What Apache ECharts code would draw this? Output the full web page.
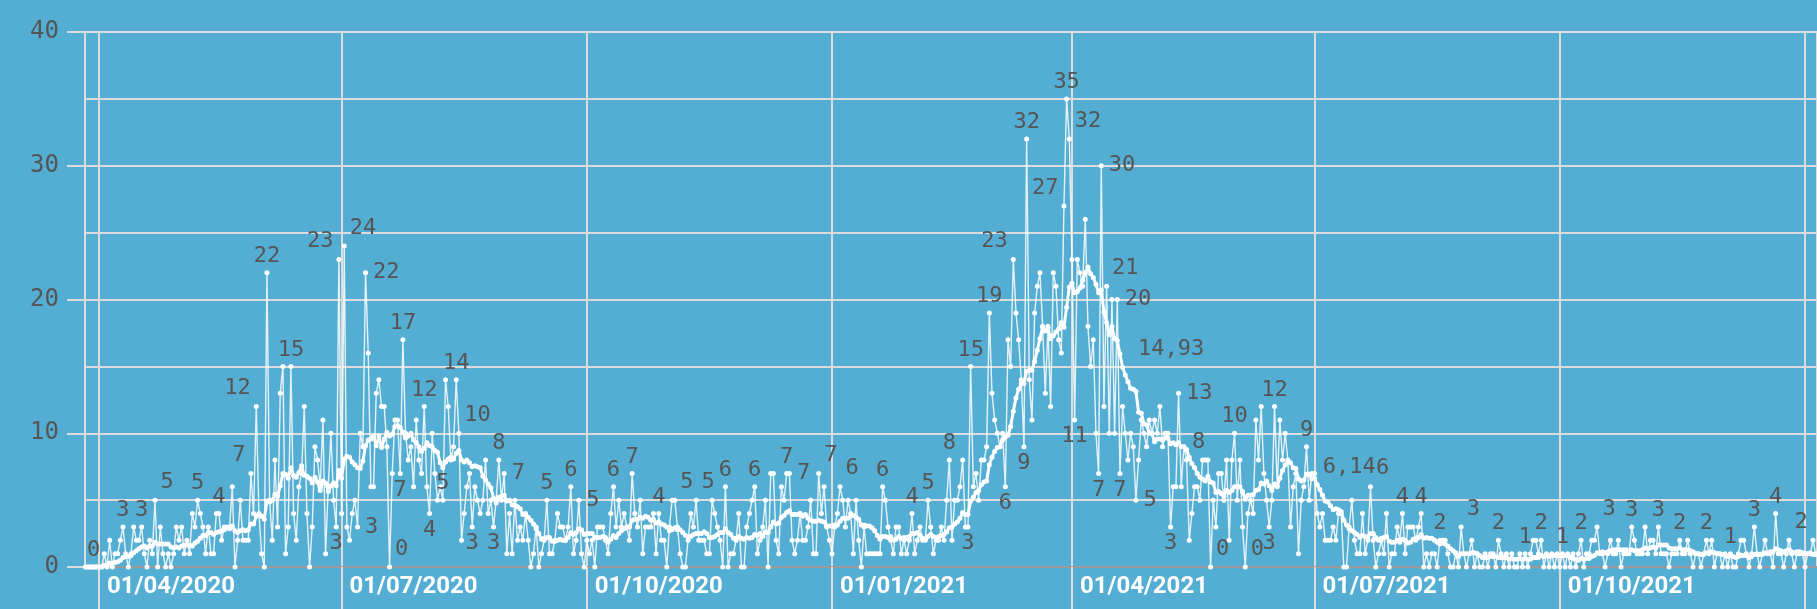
<!DOCTYPE html>
<html>
<head>
<meta charset="utf-8">
<script src="https://cdn.jsdelivr.net/npm/echarts@6/dist/echarts.min.js"></script>
<style>
html,body{margin:0;padding:0;background:#54aed3;}
#chart{width:1817px;height:609px;}
</style>
</head>
<body>
<div id="chart"></div>
<script>
// first day of the series: 27/03/2020 (year, monthIndex, day)
const startDate = [2020, 2, 27];

// daily values, one per day
const deaths2020 = [
  0,0,0,0,0,
  0,0,1,0,2,0,1,1,2,3,
  1,0,1,3,2,2,3,1,0,2,
  1,5,0,3,1,0,1,0,1,3,
  2,3,1,2,1,4,3,5,4,3,
  1,3,1,1,4,4,2,3,3,3,
  6,0,2,5,2,2,2,7,4,12,
  4,1,0,22,5,2,8,3,13,15,
  1,3,15,4,2,6,7,12,4,0,
  3,9,8,6,11,1,6,10,5,3,
  23,4,24,3,2,4,5,3,10,9,
  22,16,6,6,13,14,12,12,9,0,
  7,11,11,7,17,10,8,9,6,11,
  8,7,12,6,4,10,7,5,6,5,
  14,12,8,9,14,10,2,4,6,7,
  3,6,5,4,5,8,4,5,3,5,
  8,5,7,1,4,1,5,2,3,2,
  4,2,0,1,3,0,1,2,5,1,
  1,2,4,3,3,2,3,6,1,2,
  5,1,0,2,1,2,0,3,3,3,
  2,1,4,6,3,5,3,4,3,2,
  7,4,3,5,1,3,3,3,4,1,
  4,2,2,0,3,5,5,3,1,0,
  0,2,4,3,5,2,2,2,1,1,
  5,4,3,2,0,6,0,1,1,2,
  4,0,0,3,4,5,6,1,2,3,
  5,0,7,7,2,1,6,5,7,7,
  2,1,2,4,2,2,3,5,1,1,
  7,4,6,3,2
];
const deaths2021 = [
  1,3,4,6,5,
  3,5,4,1,5,2,0,3,1,1,
  1,1,1,1,6,5,3,2,1,3,
  3,1,2,1,2,4,1,2,3,2,
  2,5,3,1,2,2,3,2,5,8,
  2,5,5,6,8,3,3,15,6,7,
  5,8,8,9,19,13,11,10,9,10,
  6,17,15,23,19,17,14,9,32,14,
  11,19,21,22,18,13,18,12,22,21,
  17,16,27,35,32,23,11,23,22,21,
  26,18,15,17,10,7,30,12,21,10,
  20,10,20,7,12,10,8,10,9,5,
  8,11,10,9,11,10,11,10,12,9,
  10,10,3,6,6,13,6,9,8,2,
  4,6,6,5,8,8,8,0,5,3,
  7,7,5,8,2,8,10,5,8,3,
  0,4,5,4,11,8,12,7,5,3,
  5,12,6,11,8,10,8,3,6,7,
  1,5,6,9,5,7,7,4,3,4,
  2,2,2,3,2,4,4,0,0,3,
  5,2,1,1,4,1,2,6,2,0,
  1,2,1,4,0,1,1,3,2,4,
  1,3,3,3,2,3,4,0,1,0,
  1,1,0,2,2,2,1,0,0,1,
  0,3,1,0,1,2,0,1,0,0,
  1,0,1,1,0,2,1,0,1,0,
  1,0,0,1,0,1,0,1,2,2,
  1,2,0,1,0,1,0,1,0,1,
  0,1,0,1,0,1,2,0,1,1,
  2,2,3,1,1,0,1,2,1,1,
  2,0,1,1,1,3,2,1,1,1,
  3,1,2,2,1,3,1,1,1,0,
  1,1,1,2,1,1,2,1,0,1,
  1,0,1,2,1,2,0,1,1,0,
  1,0,1,0,0,1,2,2,1,0,
  1,3,1,0,1,2,1,1,0,4,
  1,1,0,1,2,1,0,1,1,1
];
const deaths2022 = [0,1,1,2,1];

// moving average window (days)
const maWindow = 14;

// y ticks
const yTicks = [0, 10, 20, 30, 40];

// labelled points: day numbers counted from 01/04/2020 (day 0), and the side of the label
const labelledDays = [-2,9,16,21,37,45,57,59,63,72,90,92,89,100,97,114,113,109,122,124,134,129,135,140,148,150,152,168,177,180,193,200,210,216,224,235,246,258,259,270,278,294,305,311,319,326,327,334,343,340,348,347,362,363,364,366,376,378,375,382,383,389,402,405,408,426,417,430,439,441,453,477,489,496,503,511,525,535,541,549,556,562,575,585,593,603,612,621,629,634];
const labelledSides = ['top','top','top','topRight','top','top','topLeft','topLeft','top','top','topLeft','topRight','bottom','right','right','top','bottom','topRight','top','bottom','top','top','topRight','bottom','bottom','top','right','top','top','right','top','top','top','topRight','topRight','top','top','top','right','topRight','topRight','top','top','top','top','bottom','top','top','topLeft','bottom','top','bottom','topLeft','top','topRight','bottom','right','topRight','bottom','right','bottom','right','bottom','right','topRight','top','topRight','topRight','bottom','top','top','topRight','top','top','top','topRight','top','top','top','top','top','topRight','top','top','top','top','top','top','top','topRight'];
const labelledAvgDays = [384, 457];
const labelledAvgSides = ['topRightFar', 'topRight'];

// ---------------------------------------------------------------
const daysBeforeApril = 5; // 27/03 -> 01/04
const values = deaths2020.concat(deaths2021, deaths2022);
const dates = values.map((_, i) => new Date(startDate[0], startDate[1], startDate[2] + i).getTime());
const avg = values.map((_, i) => {
  const from = Math.max(0, i - maWindow + 1);
  let s = 0;
  for (let k = from; k <= i; k++) s += values[k];
  return s / (i - from + 1);
});

const LABEL_FONT = {color:'#555555', fontFamily:'DejaVu Sans Mono', fontSize:22};
const sideStyle = {
  top: {position:'top', distance:3},
  bottom: {position:'bottom', distance:3},
  right: {position:'right', distance:5},
  topRight: {position:'right', distance:3, offset:[0,-18]},
  topLeft: {position:'left', distance:3, offset:[0,-18]},
  topRightFar: {position:'right', distance:3, offset:[10,-18]}
};

const dailyLabelMap = {};
labelledDays.forEach((d, k) => { dailyLabelMap[d + daysBeforeApril] = labelledSides[k]; });
const avgLabelMap = {};
labelledAvgDays.forEach((d, k) => { avgLabelMap[d + daysBeforeApril] = labelledAvgSides[k]; });

const dailyData = values.map((v, i) => {
  const item = {value:[dates[i], v]};
  if (dailyLabelMap[i]) {
    item.label = Object.assign({show:true, formatter: p => String(p.value[1])}, LABEL_FONT, sideStyle[dailyLabelMap[i]]);
  }
  return item;
});
const avgData = avg.map((v, i) => {
  const item = {value:[dates[i], v]};
  if (avgLabelMap[i]) {
    item.label = Object.assign({show:true, formatter: p => p.value[1].toFixed(2).replace('.', ',')}, LABEL_FONT, sideStyle[avgLabelMap[i]]);
  }
  return item;
});

const pad = n => (n < 10 ? '0' : '') + n;
const GRID_COLOR = '#dcdcdc';
const xMin = new Date(2020, 2, 26, 18).getTime();
const xMax = new Date(2022, 0, 5, 12).getTime();

const chart = echarts.init(document.getElementById('chart'), null, {renderer:'canvas'});
chart.setOption({
  backgroundColor: '#54aed3',
  animation: false,
  grid: {left:85, right:0, top:32, bottom:42, containLabel:false, outerBoundsMode:'none'},
  xAxis: {
    type: 'time',
    min: xMin,
    max: xMax,
    splitNumber: 7,
    axisLine: {show:true, lineStyle:{color:'#9a9a9a', width:2}},
    axisTick: {show:true, length:42, lineStyle:{color:GRID_COLOR, width:2}},
    splitLine: {show:true, lineStyle:{color:GRID_COLOR, width:2}},
    axisLabel: {
      color:'#ffffff', fontFamily:'Roboto', fontSize:24, fontWeight:'bold',
      align:'left', padding:[0,0,0,8], margin:8,
      showMinLabel:false, showMaxLabel:false,
      formatter: v => {
        if (v > xMax - 10 * 86400000) return '';
        const d = new Date(v);
        return pad(d.getDate()) + '/' + pad(d.getMonth() + 1) + '/' + d.getFullYear();
      }
    }
  },
  yAxis: {
    type: 'value',
    min: yTicks[0], max: yTicks[yTicks.length - 1], interval: yTicks[1] - yTicks[0],
    axisLine: {show:true, lineStyle:{color:GRID_COLOR, width:2}},
    axisTick: {show:true, length:18, lineStyle:{color:GRID_COLOR, width:2}},
    splitLine: {show:true, lineStyle:{color:GRID_COLOR, width:2}},
    minorTick: {show:false, splitNumber:2},
    minorSplitLine: {show:true, lineStyle:{color:GRID_COLOR, width:2}},
    axisLabel: {color:'#555555', fontFamily:'DejaVu Sans Mono', fontSize:24, margin:26}
  },
  series: [
    {
      type:'line', name:'daily', data: dailyData,
      symbol:'circle', symbolSize:5, showAllSymbol:true,
      lineStyle:{color:'rgba(255,255,255,0.85)', width:1.4},
      itemStyle:{color:'#ffffff'},
      z:2
    },
    {
      type:'line', name:'average', data: avgData,
      symbol:'circle', symbolSize:5, showAllSymbol:true,
      lineStyle:{color:'#ffffff', width:3},
      itemStyle:{color:'#ffffff'},
      z:3
    }
  ]
});
</script>
</body>
</html>
